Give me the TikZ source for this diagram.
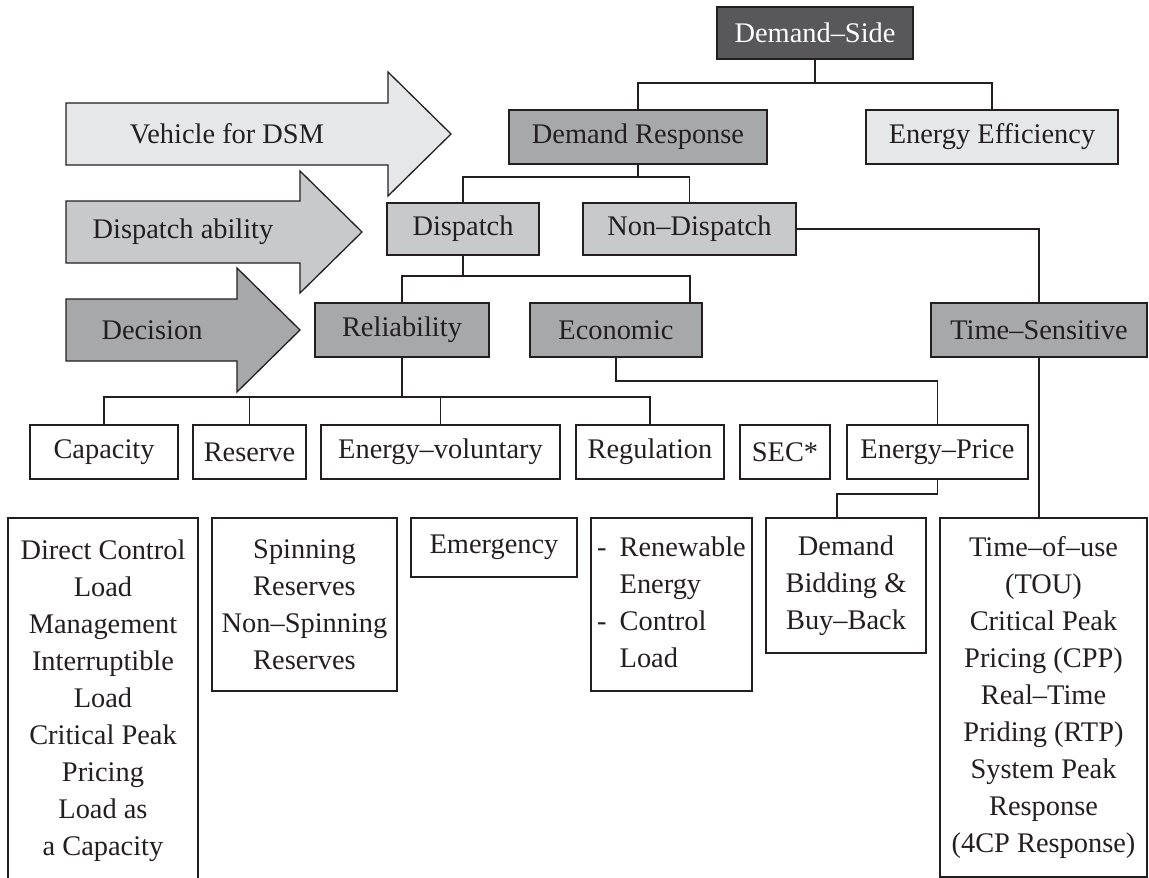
\documentclass[tikz,border=0pt]{standalone}
\usepackage{fontspec}
\setmainfont{Liberation Serif}
\definecolor{ink}{HTML}{231F20}
\definecolor{darkgr}{HTML}{58585A}
\definecolor{midgr}{HTML}{A7A8AA}
\definecolor{ltgr}{HTML}{C8C9CB}
\definecolor{palegr}{HTML}{E6E7E8}
\tikzset{x=1pt,y=-1pt,
    every node/.style={font=\fontsize{28.4}{37}\selectfont, text=ink},
    box/.style={draw=ink, line width=1.3pt, inner sep=0pt, align=center},
    sz/.style 2 args={minimum width=#1pt, minimum height=#2pt},
    link/.style={draw=ink, line width=1.3pt},
    bigarrow/.style={draw=ink, line width=1.3pt},
    }

\begin{document}
\begin{tikzpicture}
\useasboundingbox (0,0) rectangle (1149,878);
% big arrows on the left
\draw[bigarrow, fill=palegr] (66,103) -- (388,103) -- (388,72) -- (451,134) -- (388,196) -- (388,165) -- (66,165) -- cycle;
\node (vdsm) at (227,134) {Vehicle for DSM};
\draw[bigarrow, fill=ltgr] (66,201) -- (300,201) -- (300,171) -- (362,232) -- (300,293) -- (300,263) -- (66,263) -- cycle;
\node (dab) at (183,232) {Dispatch ability};
\draw[bigarrow, fill=midgr] (66,299) -- (237,299) -- (237,268) -- (300,330) -- (237,392) -- (237,361) -- (66,361) -- cycle;
\node (dec) at (152,330) {Decision};

% upper levels
\node[box, sz={196}{52}, fill=darkgr, text=white] (ds) at (815,33) {Demand--Side};
\node[box, sz={258}{54}, fill=midgr] (dr) at (638,137) {Demand Response};
\node[box, sz={252}{54}, fill=palegr] (ee) at (992,137) {Energy Efficiency};
\node[box, sz={152}{52}, fill=ltgr] (dis) at (463,229) {Dispatch};
\node[box, sz={213}{52}, fill=ltgr] (ndis) at (689.5,229) {Non--Dispatch};
\node[box, sz={174}{54}, fill=midgr] (rel) at (402,330) {Reliability};
\node[box, sz={172}{54}, fill=midgr] (eco) at (616,330) {Economic};
\node[box, sz={216}{54}, fill=midgr] (ts) at (1039,330) {Time--Sensitive};

% programme row
\node[box, sz={148}{54}] (cap) at (104,452) {Capacity};
\node[box, sz={113}{54}] (res) at (249.5,452) {Reserve};
\node[box, sz={239}{54}] (ev) at (440.5,452) {Energy--voluntary};
\node[box, sz={148}{54}] (reg) at (650,452) {Regulation};
\node[box, sz={90}{54}] (sec) at (785,452) {SEC*};
\node[box, sz={181}{54}] (ep) at (937.5,452) {Energy--Price};

% examples row
\node[box, sz={190}{366}] (dcl) at (103,701) {Direct Control\\Load\\Management\\Interruptible\\Load\\Critical Peak\\Pricing\\Load as\\a Capacity};
\node[box, sz={185}{173}] (spin) at (304.5,604.5) {Spinning\\Reserves\\Non--Spinning\\Reserves};
\node[box, sz={166}{59}] (emg) at (494,547.5) {Emergency};
\node[box, sz={161}{173}] (ren) at (671.5,604.5) {\begin{tabular}{@{}l@{\hspace{13pt}}l@{}}-&Renewable\\&Energy\\-&Control\\&Load\end{tabular}};
\node[box, sz={160}{135}] (db) at (846,585.5) {Demand\\Bidding \&\\Buy--Back};
\node[box, sz={207}{359}] (tou) at (1043.5,697.5) {Time--of--use\\(TOU)\\Critical Peak\\Pricing (CPP)\\Real--Time\\Priding (RTP)\\System Peak\\Response\\(4CP Response)};

% connectors
\coordinate (j1) at (815,83);
\coordinate (j2) at (638,177);
\coordinate (j3) at (463,276);
\coordinate (j3e) at (690,276);
\coordinate (j4) at (402,397);
\coordinate (j5) at (616,381);
\coordinate (j6) at (837,494);
\draw[link] (ds.south) -- (j1);
\draw[link] (dr.north) |- (j1) -| (ee.north);
\draw[link] (dr.south) -- (j2);
\draw[link] (dis.north) |- (j2) -| (ndis.north);
\draw[link] (dis.south) -- (j3);
\draw[link] (rel.north) |- (j3e) -- (j3e |- eco.north);
\draw[link] (ndis.east) -| (ts.north);
\draw[link] (rel.south) -- (j4);
\draw[link] (cap.north) |- (j4) -| (reg.north);
\foreach \n in {res,ev} \draw[link] (\n.north) -- (\n.north |- j4);
\draw[link] (eco.south) -- (j5) -| (ep.north);
\draw[link] (ep.south) |- (j6) -- (j6 |- db.north);
\draw[link] (ts.south) -- (ts.south |- tou.north);
\end{tikzpicture}
\end{document}
